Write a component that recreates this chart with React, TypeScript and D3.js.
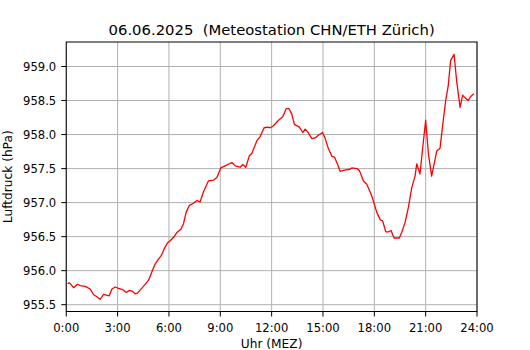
import React from 'react';
import * as d3 from 'd3';

// Stunden (MEZ) und Luftdruck (hPa)
const hours = [
  0.08, 0.19, 0.43, 0.66, 0.82, 1.11, 1.40, 1.59, 1.83, 1.99, 2.18, 2.51, 2.67, 2.86, 3.05, 3.31,
  3.50, 3.70, 3.84, 4.03, 4.16, 4.51, 4.81, 5.00, 5.20, 5.39, 5.55, 5.72, 5.92, 6.07, 6.27, 6.46,
  6.70, 6.85, 7.01, 7.20, 7.43, 7.63, 7.82, 8.02, 8.31, 8.60, 8.80, 9.03, 9.28, 9.68, 9.87, 10.16,
  10.32, 10.49, 10.70, 10.84, 11.14, 11.33, 11.56, 11.75, 11.91, 12.11, 12.40, 12.65, 12.85, 13.02,
  13.18, 13.33, 13.62, 13.82, 13.96, 14.11, 14.35, 14.54, 14.79, 14.97, 15.12, 15.32, 15.52, 15.67,
  15.84, 16.00, 16.35, 16.58, 16.68, 16.98, 17.13, 17.36, 17.56, 17.85, 18.14, 18.34, 18.49, 18.67,
  18.82, 18.98, 19.15, 19.46, 19.60, 19.80, 19.99, 20.19, 20.38, 20.48, 20.67, 20.83, 21.00, 21.16,
  21.35, 21.65, 21.84, 22.00, 22.17, 22.32, 22.46, 22.66, 22.81, 23.01, 23.16, 23.30, 23.49, 23.63,
  23.82,
];
const pressure = [
  955.81, 955.82, 955.75, 955.80, 955.78, 955.77, 955.73, 955.65, 955.61, 955.58, 955.65, 955.63,
  955.73, 955.76, 955.74, 955.72, 955.68, 955.71, 955.70, 955.66, 955.67, 955.77, 955.86, 955.98,
  956.10, 956.17, 956.22, 956.32, 956.41, 956.44, 956.49, 956.56, 956.61, 956.69, 956.86, 956.96,
  956.99, 957.03, 957.01, 957.16, 957.32, 957.33, 957.37, 957.51, 957.54, 957.59, 957.54, 957.52,
  957.56, 957.52, 957.69, 957.72, 957.91, 957.97, 958.10, 958.11, 958.10, 958.13, 958.21, 958.26,
  958.38, 958.38, 958.30, 958.15, 958.11, 958.03, 958.08, 958.04, 957.94, 957.95, 958.00, 958.03,
  957.95, 957.79, 957.68, 957.67, 957.57, 957.46, 957.48, 957.49, 957.51, 957.50, 957.47, 957.32,
  957.27, 957.10, 956.86, 956.75, 956.73, 956.57, 956.57, 956.59, 956.48, 956.48, 956.56, 956.71,
  956.93, 957.22, 957.39, 957.57, 957.42, 957.81, 958.21, 957.72, 957.39, 957.76, 957.80, 958.15,
  958.50, 958.72, 959.09, 959.18, 958.79, 958.40, 958.58, 958.54, 958.50, 958.56, 958.60,
];
const xTicks = [0, 3, 6, 9, 12, 15, 18, 21, 24];
const yTicks = [955.5, 956.0, 956.5, 957.0, 957.5, 958.0, 958.5, 959.0];

const title = '06.06.2025  (Meteostation CHN/ETH Zürich)';
const xLabel = 'Uhr (MEZ)';
const yLabel = 'Luftdruck (hPa)';

const W = 530, H = 350;
const margin = { left: 66.25, right: 53, top: 42, bottom: 38.5 };
const font = 'DejaVu Sans, sans-serif';

export default function App() {
  const x = d3.scaleLinear().domain([0, 24]).range([margin.left, W - margin.right]);
  // 5% Rand wie bei matplotlib
  const [lo, hi] = d3.extent(pressure) as [number, number];
  const pad = (hi - lo) * 0.05;
  const y = d3.scaleLinear().domain([lo - pad, hi + pad]).range([H - margin.bottom, margin.top]);

  const line = d3.line<number>()
    .x((d, i) => x(hours[i]))
    .y(d => y(d));

  const fmt = (h: number) => h + ':00';
  const bottom = H - margin.bottom;

  return (
    <div style={{ position: 'fixed', left: 0, top: 0 }}>
      <svg width={W} height={H} style={{ display: 'block', background: '#fff' }}>
        {/* grid */}
        {xTicks.map(t => (
          <line key={'gx' + t} x1={x(t)} x2={x(t)} y1={margin.top} y2={bottom}
            stroke="#b0b0b0" strokeWidth={1} />
        ))}
        {yTicks.map(t => (
          <line key={'gy' + t} x1={margin.left} x2={W - margin.right} y1={y(t)} y2={y(t)}
            stroke="#b0b0b0" strokeWidth={1} />
        ))}

        <path d={line(pressure) || ''} fill="none" stroke="red" strokeWidth={1.3} strokeLinejoin="round" />

        <rect x={margin.left} y={margin.top} width={W - margin.left - margin.right}
          height={bottom - margin.top} fill="none" stroke="#000" strokeWidth={1} />

        {/* x axis */}
        {xTicks.map(t => (
          <g key={'tx' + t}>
            <line x1={x(t)} x2={x(t)} y1={bottom} y2={bottom + 5} stroke="#000" />
            <text x={x(t)} y={bottom + 20} textAnchor="middle" fontSize={11.6} fontFamily={font}>{fmt(t)}</text>
          </g>
        ))}
        {/* y axis */}
        {yTicks.map(t => (
          <g key={'ty' + t}>
            <line x1={margin.left - 5} x2={margin.left} y1={y(t)} y2={y(t)} stroke="#000" />
            <text x={margin.left - 10} y={y(t)} dy="0.36em" textAnchor="end" fontSize={11.6} fontFamily={font}>{t.toFixed(1)}</text>
          </g>
        ))}

        <text x={(margin.left + W - margin.right) / 2} y={348} textAnchor="middle" fontSize={12.2} fontFamily={font}>{xLabel}</text>
        <text transform={`translate(12,${(margin.top + bottom) / 2}) rotate(-90)`} textAnchor="middle" fontSize={12.2} fontFamily={font}>{yLabel}</text>
        <text x={(margin.left + W - margin.right) / 2} y={35} textAnchor="middle" fontSize={14.8} fontFamily={font}
          style={{ whiteSpace: 'pre' }}>{title}</text>
      </svg>
    </div>
  );
}
